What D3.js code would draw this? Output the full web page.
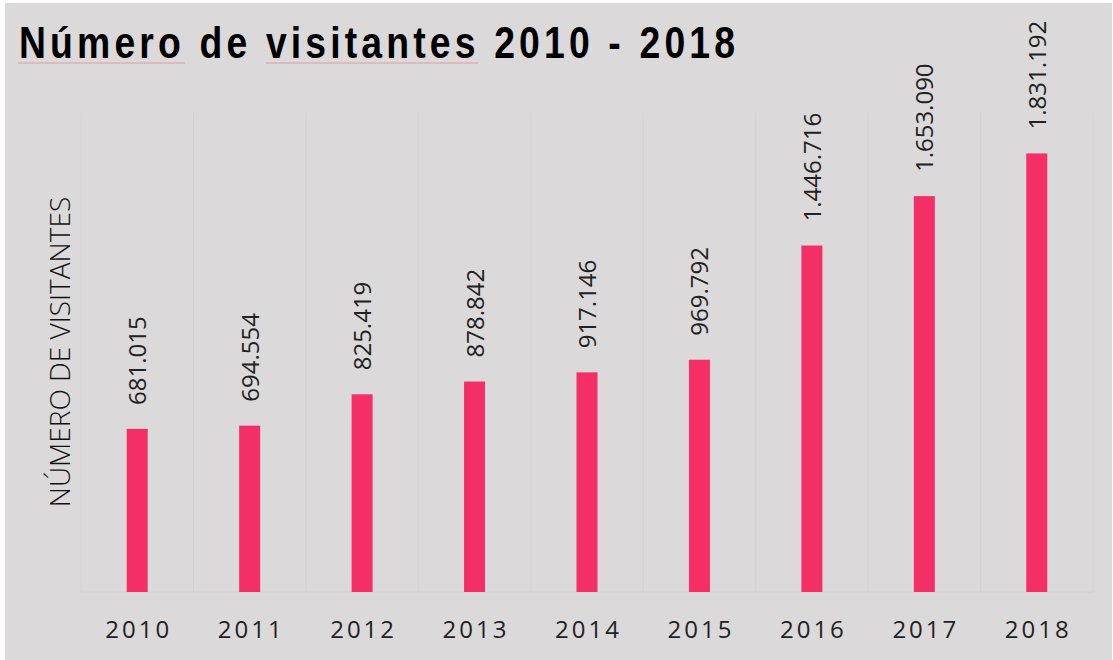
<!DOCTYPE html>
<html>
<head>
<meta charset="utf-8">
<script src="https://cdn.jsdelivr.net/npm/d3@7"></script>
<style>
  html, body { margin: 0; padding: 0; background: #fff; }
  svg { display: block; }
</style>
</head>
<body>
<div id="chart"></div>
<script>
let years = ['2010', '2011', '2012', '2013', '2014', '2015', '2016', '2017', '2018'];
let visitors = [681015, 694554, 825419, 878842, 917146, 969792, 1446716, 1653090, 1831192];
let titleText = 'Número de visitantes 2010 - 2018';
let yTitle = 'NÚMERO DE VISITANTES';

let width = 1113,
    height = 660,
    plot = {left: 81, right: 1093, top: 113, bottom: 592};

let svg = d3.select('#chart').append('svg')
    .attr('width', width)
    .attr('height', height);

// panel background
svg.append('rect')
    .attr('x', 5)
    .attr('y', 3)
    .attr('width', width - 6)
    .attr('height', height - 3)
    .attr('fill', '#dbd9da');

let xScale = d3.scaleBand()
    .domain(years)
    .range([plot.left, plot.right]);

let yScale = d3.scaleLinear()
    .domain([0, 2000000])
    .range([plot.bottom, plot.top]);

let fmt = d3.formatLocale({decimal: ',', thousands: '.', grouping: [3], currency: ['', '']}).format(',d');

// faint category separators
let grid_g = svg.append('g').attr('class', 'grid');
grid_g.selectAll('line')
    .data(years.concat(['end']))
    .join('line')
    .attr('x1', (d, i) => i < years.length ? xScale(d) : plot.right)
    .attr('x2', (d, i) => i < years.length ? xScale(d) : plot.right)
    .attr('y1', plot.top)
    .attr('y2', plot.bottom)
    .attr('stroke', '#d4d2d3')
    .attr('stroke-width', 1);

grid_g.append('line')
    .attr('x1', plot.left).attr('x2', plot.right)
    .attr('y1', plot.bottom).attr('y2', plot.bottom)
    .attr('stroke', '#d4d2d3');

let barWidth = 21;
let data = years.map((y, i) => ({year: y, value: visitors[i]}));

svg.append('g')
    .selectAll('rect')
    .data(data)
    .join('rect')
    .attr('x', d => xScale(d.year) + xScale.bandwidth() / 2 - barWidth / 2)
    .attr('y', d => yScale(d.value))
    .attr('width', barWidth)
    .attr('height', d => plot.bottom - yScale(d.value))
    .attr('fill', '#f42f66');

// value labels, rotated
svg.append('g')
    .selectAll('text')
    .data(data)
    .join('text')
    .attr('transform', d => `translate(${xScale(d.year) + xScale.bandwidth() / 2 + 9}, ${yScale(d.value) - 24}) rotate(-90)`)
    .attr('text-anchor', 'start')
    .style('font-family', '"Open Sans", "Noto Sans", sans-serif')
    .style('font-size', '24px')
    .style('font-weight', 400)
    .attr('fill', '#222')
    .text(d => fmt(d.value));

// year labels
svg.append('g')
    .selectAll('text')
    .data(years)
    .join('text')
    .attr('x', d => xScale(d) + xScale.bandwidth() / 2 + 1.5)
    .attr('y', 638)
    .attr('text-anchor', 'middle')
    .style('font-family', '"Open Sans", "Noto Sans", sans-serif')
    .style('font-size', '24px')
    .style('font-weight', 400)
    .style('letter-spacing', '3px')
    .attr('fill', '#222')
    .text(d => d);

// y axis title
svg.append('text')
    .attr('transform', 'translate(70, 352) rotate(-90)')
    .attr('text-anchor', 'middle')
    .style('font-family', '"Open Sans", "Noto Sans", sans-serif')
    .style('font-size', '28px')
    .style('font-weight', 300)
    .attr('fill', '#111')
    .text(yTitle);

// title: condensed glyphs, spread out to full width
let squeeze = 0.83;
svg.append('text')
    .attr('transform', `translate(19, 58) scale(${squeeze}, 1)`)
    .attr('textLength', 716 / squeeze)
    .attr('lengthAdjust', 'spacing')
    .style('font-family', '"Liberation Sans", Arial, sans-serif')
    .style('font-size', '45px')
    .style('font-weight', 700)
    .attr('fill', '#000')
    .text(titleText);

// spell-check style underlines under two words
let underlines = [[18, 185], [266, 478]];
svg.append('g')
    .selectAll('line')
    .data(underlines)
    .join('line')
    .attr('x1', d => d[0]).attr('x2', d => d[1])
    .attr('y1', 63).attr('y2', 63)
    .attr('stroke', '#e39a9e')
    .attr('stroke-width', 1);
</script>
</body>
</html>
